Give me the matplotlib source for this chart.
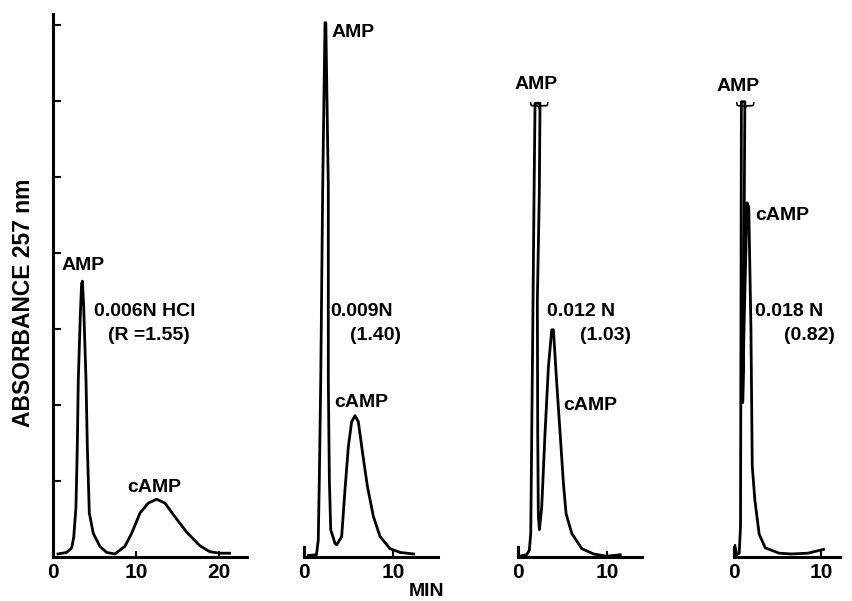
import matplotlib
matplotlib.use("Agg")
import matplotlib.pyplot as plt

plt.rcParams['font.family'] = ['Liberation Sans', 'DejaVu Sans']
plt.rcParams['font.weight'] = 'bold'

# traces: time (min) / absorbance (tick units)
p1_min = [0.6, 1.65, 2.25, 2.5, 2.77, 2.93, 3.05, 3.3, 3.45, 3.55, 3.7, 3.98, 4.14, 4.38,
          4.86, 5.66, 6.47, 7.47, 8.67, 9.48, 10.5, 11.5, 12.5, 13.5, 14.7, 16.1, 17.7,
          18.9, 20.1, 21.3]
p1_abs = [0.04, 0.06, 0.12, 0.26, 0.66, 1.45, 2.33, 3.2, 3.6, 3.63, 3.3, 2.33, 1.45, 0.58,
          0.31, 0.14, 0.06, 0.04, 0.14, 0.31, 0.58, 0.71, 0.76, 0.71, 0.53, 0.33, 0.15,
          0.07, 0.05, 0.05]

p2_min = [0.5, 1.4, 1.6, 1.72, 1.88, 2.1, 2.36, 2.45, 2.73, 2.73, 2.85, 3.0, 3.48, 3.67,
          4.23, 4.6, 4.98, 5.35, 5.73, 6.1, 6.59, 7.12, 7.8, 8.54, 9.66, 10.8, 12.3]
p2_abs = [0.02, 0.03, 0.22, 1.01, 2.33, 4.87, 7.03, 7.03, 4.87, 2.33, 1.01, 0.36, 0.18, 0.16,
          0.27, 0.88, 1.45, 1.78, 1.86, 1.78, 1.36, 0.93, 0.53, 0.27, 0.11, 0.06, 0.04]

p3_min = [0.15, 0.97, 1.27, 1.43, 1.54, 1.65, 1.8, 1.91, 2.47, 2.39, 2.17, 2.21, 2.28, 2.4,
          2.66, 3.03, 3.41, 3.78, 3.97, 4.34, 4.72, 5.09, 5.39, 6.03, 7.15, 8.46, 9.96, 11.46]
p3_abs = [0.01, 0.03, 0.09, 0.31, 1.63, 2.94, 4.78, 5.97, 5.97, 4.79, 3.38, 1.63, 0.53, 0.36,
          0.66, 1.63, 2.5, 2.99, 2.99, 2.29, 1.63, 0.97, 0.57, 0.31, 0.11, 0.04, 0.01, 0.03]

p4_min = [0.1, 0.3, 0.6, 0.75, 0.8, 0.85, 1.25, 1.15, 1.0, 1.15, 1.5, 1.7, 1.95, 2.1, 2.4,
          2.9, 3.6, 5.2, 6.6, 8.5, 10.3]
p4_abs = [0.15, 0.03, 0.05, 0.4, 3.0, 5.99, 5.99, 4.0, 2.03, 3.0, 4.66, 4.6, 3.0, 1.2, 0.75,
          0.3, 0.12, 0.05, 0.04, 0.05, 0.1]

panels = [
    dict(t=p1_min, a=p1_abs, left=53, right=247, xmax=23.4, xticks=[0, 10, 20]),
    dict(t=p2_min, a=p2_abs, left=304, right=438, xmax=15.05, xticks=[0, 10]),
    dict(t=p3_min, a=p3_abs, left=518, right=642, xmax=13.9, xticks=[0, 10]),
    dict(t=p4_min, a=p4_abs, left=734, right=840, xmax=12.2, xticks=[0, 10]),
]

W, H = 852, 601
base_px, top_px = 557, 14
ymax = (base_px - top_px) / 76.0

fig = plt.figure(figsize=(W / 100, H / 100), dpi=100)
axes = []
for i, p in enumerate(panels):
    ax = fig.add_axes([p['left'] / W, (H - base_px) / H, (p['right'] - p['left']) / W,
                       (base_px - top_px) / H])
    ax.plot(p['t'], p['a'], color='black', lw=2.0, solid_joinstyle='round')
    ax.set_xlim(0, p['xmax'])
    ax.set_ylim(0, ymax)
    for s in ['top', 'right']:
        ax.spines[s].set_visible(False)
    ax.spines['bottom'].set_linewidth(2.2)
    ax.spines['left'].set_linewidth(2.2)
    ax.set_xticks(p['xticks'])
    ax.set_xticklabels([str(v) for v in p['xticks']], fontsize=15, fontweight='bold')
    ax.tick_params(axis='x', direction='in', length=4, width=1.5, pad=4)
    if i == 0:
        ax.set_yticks(range(1, 8))
        ax.set_yticklabels([])
        ax.tick_params(axis='y', direction='in', length=6, width=1.5)
    else:
        ax.spines['left'].set_bounds(0, 0.13)
        ax.set_yticks([])
    ax.patch.set_alpha(0)
    axes.append(ax)

fs = 14
row1 = 3.23   # first line of the eluent labels
row2 = 2.92   # second line (R value)
a1, a2, a3, a4 = axes
a1.text(3.6, 3.72, 'AMP', ha='center', va='bottom', fontsize=fs)
a1.text(5.0, row1, '0.006N HCl', ha='left', va='center', fontsize=fs)
a1.text(6.6, row2, '(R =1.55)', ha='left', va='center', fontsize=fs)
a1.text(9.0, 0.92, 'cAMP', ha='left', va='center', fontsize=fs)

a2.text(3.1, 6.9, 'AMP', ha='left', va='center', fontsize=fs)
a2.text(2.9, row1, '0.009N', ha='left', va='center', fontsize=fs)
a2.text(5.2, row2, '(1.40)', ha='left', va='center', fontsize=fs)
a2.text(3.4, 2.03, 'cAMP', ha='left', va='center', fontsize=fs)

# AMP runs off scale in the last two runs: brace over the clipped top
a3.text(2.0, 6.1, 'AMP', ha='center', va='bottom', fontsize=fs)
a3.text(2.2, 5.9, '{', rotation=90, ha='center', va='bottom', fontsize=14,
        fontweight='normal', family='DejaVu Sans')
a3.text(3.3, row1, '0.012 N', ha='left', va='center', fontsize=fs)
a3.text(7.0, row2, '(1.03)', ha='left', va='center', fontsize=fs)
a3.text(5.1, 2.0, 'cAMP', ha='left', va='center', fontsize=fs)

a4.text(0.5, 6.08, 'AMP', ha='center', va='bottom', fontsize=fs)
a4.text(1.05, 5.9, '{', rotation=90, ha='center', va='bottom', fontsize=14,
        fontweight='normal', family='DejaVu Sans')
a4.text(2.4, 4.5, 'cAMP', ha='left', va='center', fontsize=fs)
a4.text(2.4, row1, '0.018 N', ha='left', va='center', fontsize=fs)
a4.text(5.8, row2, '(0.82)', ha='left', va='center', fontsize=fs)

fig.text(24 / W, 1 - 303 / H, 'ABSORBANCE 257 nm', rotation=90, ha='center', va='center',
         fontsize=16.5, fontweight='bold')
fig.text(427 / W, 1 - 592 / H, 'MIN', ha='center', va='center', fontsize=14, fontweight='bold')

fig.savefig('out.png', dpi=100)
